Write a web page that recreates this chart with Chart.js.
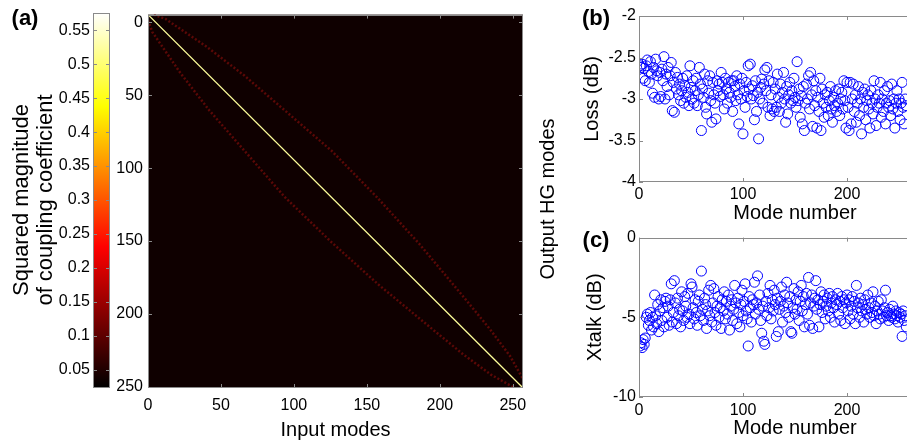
<!doctype html>
<html lang="en">
<head>
<meta charset="utf-8" />
<title>Mode coupling, loss and crosstalk</title>
<script src="https://cdn.jsdelivr.net/npm/chart.js@4.4.1/dist/chart.umd.min.js"></script>
<style>
    body {
        margin: 0;
        background: #fff;
        overflow: hidden;
        width: 907px;
        height: 445px;
        position: relative;
    }

    canvas {
        position: absolute;
    }
</style>
</head>
<body>
<canvas id="bar" width="120" height="400" style="left:0;top:0"></canvas>
<canvas id="map" width="460" height="445" style="left:100px;top:0"></canvas>
<canvas id="loss" width="400" height="225" style="left:560px;top:0"></canvas>
<canvas id="xtalk" width="400" height="220" style="left:560px;top:225px"></canvas>
<script>
    // colour scale of panel (a)
    const colorRange = [0.024, 0.576];
    const colorTicks = [0.05, 0.1, 0.15, 0.2, 0.25, 0.3, 0.35, 0.4, 0.45, 0.5, 0.55];

    // coupling matrix (a), read in the picture's own axis units
    const modeTicks = [0, 50, 100, 150, 200, 250];
    const inputRange = [0, 257];
    const outputRange = [-5.4, 250.8];
    const diagIn = [0, 257];
    const diagOut = [-5.4, 250.8];
    const upperIn = [4, 12, 40, 66, 96, 126, 157, 186, 216, 234, 248, 257];
    const upperOut = [-5.4, -2.4, 16.5, 36.4, 62.3, 88.2, 120, 152, 188, 210, 228.7, 244.6];
    const lowerIn = [0, 3, 22, 42, 68, 94, 126, 158, 194, 216, 235, 251];
    const lowerOut = [-1.4, 6.6, 34.4, 60.3, 90.2, 120.1, 151, 179.9, 209.7, 227.7, 241.6, 250.6];

    // panels (b) and (c)
    const numberTicks = [0, 100, 200];
    const lossTicks = [-2, -2.5, -3, -3.5, -4];
    const xtalkTicks = [0, -5, -10];

    const lossDb = [
        -2.6, -2.62, -2.58, -2.75, -2.63, -2.78, -2.6, -2.53, -2.67, -2.8,
        -2.55, -2.7, -2.93, -2.62, -2.98, -2.52, -2.66, -2.72, -3.0, -2.68,
        -2.97, -2.64, -2.78, -2.49, -3.0, -2.7, -2.85, -2.62, -2.95, -2.72,
        -2.56, -3.14, -2.8, -3.16, -2.68, -2.88, -2.74, -2.95, -2.82, -3.02,
        -2.9, -2.75, -3.05, -2.84, -2.98, -2.72, -2.92, -3.08, -2.6, -2.86,
        -3.0, -2.78, -3.05, -2.9, -2.75, -3.08, -2.95, -2.62, -2.82, -3.38,
        -2.88, -2.98, -2.7, -3.1, -3.18, -2.78, -2.93, -2.72, -3.02, -3.28,
        -2.8, -2.95, -3.05, -3.24, -2.78, -2.9, -2.82, -2.97, -2.68, -2.8,
        -2.95, -3.12, -2.75, -2.88, -3.05, -2.8, -2.92, -2.98, -2.78, -3.15,
        -2.78, -2.85, -3.02, -2.72, -2.95, -3.3, -2.82, -3.0, -2.75, -3.42,
        -2.9, -3.1, -2.8, -2.97, -2.6, -2.88, -2.58, -3.0, -2.84, -2.96,
        -3.25, -2.78, -3.15, -2.92, -3.48, -3.0, -2.86, -2.76, -3.05, -2.82,
        -2.65, -2.9, -2.62, -3.1, -2.78, -3.2, -2.95, -3.12, -2.8, -3.15,
        -2.88, -3.1, -2.7, -2.98, -3.15, -2.82, -3.05, -2.92, -2.68, -3.0,
        -3.28, -2.85, -3.18, -2.95, -2.8, -3.05, -2.9, -3.02, -2.75, -2.98,
        -3.1, -2.55, -3.02, -2.88, -3.22, -2.96, -3.3, -2.85, -3.38, -3.05,
        -2.82, -3.0, -2.72, -3.12, -2.68, -2.95, -3.33, -2.78, -3.08, -2.9,
        -3.35, -2.98, -3.15, -2.75, -3.38, -2.88, -3.05, -3.22, -2.95, -3.1,
        -2.92, -3.2, -3.02, -2.85, -3.12, -3.28, -2.98, -3.08, -2.9, -3.15,
        -3.05, -2.88, -3.2, -3.0, -2.92, -3.12, -2.78, -3.02, -3.35, -2.8,
        -3.1, -3.38, -2.8, -3.3, -3.0, -2.82, -3.15, -2.95, -3.28, -3.05,
        -2.85, -3.2, -3.0, -3.42, -2.92, -3.1, -2.88, -3.25, -3.02, -2.95,
        -3.12, -3.35, -2.9, -3.05, -3.18, -2.78, -3.0, -3.32, -3.1, -2.95,
        -3.05, -2.8, -3.22, -3.0, -3.15, -2.9, -3.3, -3.05, -2.85, -3.1,
        -3.02, -3.2, -2.82, -3.12, -3.0, -3.35, -3.05, -2.9, -3.15, -3.0,
        -3.25, -3.05, -2.8, -3.1, -3.3, -3.0, -3.08
    ];

    const xtalkDb = [
        -6.8, -6.6, -6.9, -6.4, -6.7, -6.3, -5.0, -4.8, -5.5, -5.2,
        -4.7, -5.8, -5.0, -5.6, -3.6, -4.9, -5.4, -4.2, -5.9, -4.6,
        -3.9, -5.2, -4.4, -5.6, -4.0, -3.8, -5.0, -4.3, -5.5, -3.9,
        -2.9, -5.3, -4.7, -2.7, -4.1, -5.4, -3.8, -4.9, -4.5, -5.6,
        -3.4, -4.6, -5.2, -3.7, -4.3, -5.0, -3.5, -4.8, -5.4, -2.9,
        -3.1, -4.4, -5.1, -3.9, -4.7, -5.5, -4.0, -3.6, -4.9, -2.1,
        -4.5, -5.2, -3.8, -4.2, -5.7, -4.6, -3.3, -4.9, -3.0, -5.3,
        -4.1, -3.2, -4.7, -5.5, -4.3, -3.7, -5.0, -4.4, -5.7, -3.9,
        -4.6, -3.4, -5.1, -4.0, -4.8, -3.6, -5.8, -4.3, -3.9, -5.2,
        -4.5, -3.0, -4.1, -5.4, -3.8, -4.7, -5.6, -4.2, -3.3, -4.9,
        -4.0, -2.9, -4.6, -5.1, -6.8, -3.7, -4.4, -5.3, -3.9, -4.2,
        -2.8, -4.8, -4.1, -2.4, -4.5, -3.6, -5.2, -6.0, -4.3, -6.5,
        -6.7, -4.0, -4.9, -3.5, -4.4, -3.0, -5.1, -3.9, -4.6, -3.3,
        -4.2, -6.2, -3.8, -5.9, -4.5, -4.0, -3.1, -5.3, -4.3, -3.6,
        -4.7, -2.8, -4.1, -5.0, -3.7, -5.9, -6.0, -4.4, -3.2, -4.8,
        -3.9, -4.5, -3.4, -5.2, -4.0, -3.0, -4.6, -3.7, -5.6, -4.2,
        -3.5, -4.8, -2.5, -5.5, -4.1, -3.6, -5.7, -4.3, -3.8, -2.7,
        -4.5, -3.9, -5.6, -4.2, -3.4, -4.7, -4.0, -3.6, -5.1, -4.3,
        -3.8, -4.6, -3.5, -5.0, -4.1, -3.7, -4.4, -5.3, -3.9, -4.2,
        -3.5, -4.8, -4.0, -5.2, -3.7, -4.4, -3.9, -5.4, -4.1, -3.6,
        -4.6, -3.9, -5.1, -4.3, -3.7, -4.8, -4.0, -5.4, -3.0, -4.4,
        -4.1, -5.0, -3.8, -4.6, -4.2, -5.3, -3.9, -4.5, -4.8, -3.6,
        -4.4, -5.0, -4.1, -4.7, -3.4, -4.9, -4.3, -5.4, -4.6, -4.0,
        -4.8, -5.1, -3.9, -4.6, -5.0, -4.4, -3.3, -4.9, -4.7, -5.2,
        -4.5, -4.9, -5.0, -4.3, -4.8, -5.1, -4.6, -4.9, -5.3, -4.7,
        -5.0, -4.8, -6.2, -4.6, -5.2, -4.9, -5.6
    ];

    const FONT = 'Arial, "Liberation Sans", sans-serif';
    Chart.defaults.font.family = FONT;
    Chart.defaults.color = '#000';
    Chart.defaults.animation = false;
    Chart.defaults.plugins.legend.display = false;
    Chart.defaults.plugins.tooltip.enabled = false;

    const pts = (xs, ys) => xs.map((x, i) => ({ x: x, y: ys[i] }));
    const setTicks = (values) => (scale) => { scale.ticks = values.map(v => ({ value: v })); };

    // matlab style box with inward ticks on all four sides
    const boxPlugin = {
        id: 'box',
        afterDraw(chart, args, opts) {
            const { ctx, chartArea: a } = chart;
            const L = opts.tick || 4;
            ctx.save();
            ctx.strokeStyle = opts.color || '#888';
            ctx.lineWidth = 1;
            ctx.beginPath();
            Object.values(chart.scales).forEach(s => {
                if (s.options.display === false) return;
                s.ticks.forEach(t => {
                    const p = Math.round(s.getPixelForValue(t.value)) + 0.5;
                    if (s.isHorizontal()) {
                        ctx.moveTo(p, a.bottom); ctx.lineTo(p, a.bottom - L);
                        ctx.moveTo(p, a.top); ctx.lineTo(p, a.top + L);
                    } else {
                        ctx.moveTo(a.left, p); ctx.lineTo(a.left + L, p);
                        ctx.moveTo(a.right, p); ctx.lineTo(a.right - L, p);
                    }
                });
            });
            ctx.stroke();
            ctx.strokeRect(Math.round(a.left) + 0.5, Math.round(a.top) + 0.5,
                Math.round(a.width) - 1, Math.round(a.height) - 1);
            ctx.restore();
        }
    };

    // free text: panel letters and the right hand label
    const textPlugin = {
        id: 'texts',
        afterDraw(chart, args, opts) {
            const ctx = chart.ctx;
            (opts.items || []).forEach(it => {
                ctx.save();
                ctx.font = it.font;
                ctx.fillStyle = '#000';
                ctx.textAlign = it.align || 'center';
                ctx.textBaseline = 'middle';
                ctx.translate(it.x, it.y);
                if (it.rot) ctx.rotate(it.rot);
                ctx.fillText(it.text, 0, 0);
                ctx.restore();
            });
        }
    };

    const bgPlugin = {
        id: 'bg',
        beforeDatasetsDraw(chart, args, opts) {
            if (!opts.color) return;
            const { ctx, chartArea: a } = chart;
            ctx.fillStyle = opts.color;
            ctx.fillRect(a.left, a.top, a.width, a.height);
        }
    };

    // colour bar
    new Chart(document.getElementById('bar'), {
        type: 'bar',
        data: {
            labels: [''],
            datasets: [{
                data: [colorRange],
                barPercentage: 1,
                categoryPercentage: 1,
                borderWidth: 0,
                backgroundColor: (c) => {
                    const a = c.chart.chartArea;
                    if (!a) return '#000';
                    const g = c.chart.ctx.createLinearGradient(0, a.bottom, 0, a.top);
                    g.addColorStop(0, '#000000');
                    g.addColorStop(0.375, '#ff0000');
                    g.addColorStop(0.75, '#ffff00');
                    g.addColorStop(1, '#ffffff');
                    return g;
                }
            }]
        },
        options: {
            responsive: false,
            devicePixelRatio: 1,
            layout: { padding: { top: 10, bottom: 12, left: 0, right: 10 } },
            scales: {
                x: { display: false },
                y: {
                    min: colorRange[0],
                    max: colorRange[1],
                    afterBuildTicks: setTicks(colorTicks),
                    afterFit: (s) => { s.width = 93; },
                    grid: { display: false, drawTicks: false },
                    border: { display: false },
                    ticks: { font: { size: 16 }, padding: 3, callback: v => String(v) },
                    title: {
                        display: true,
                        text: ['Squared magnitude', 'of coupling coefficient'],
                        font: { size: 22, lineHeight: 1.1 },
                        padding: { top: 10, bottom: 0 }
                    }
                }
            },
            plugins: {
                box: { tick: 4, color: '#8a8a8a' },
                texts: { items: [{ text: '(a)', x: 25, y: 19, font: 'bold 22px ' + FONT }] }
            }
        },
        plugins: [boxPlugin, textPlugin]
    });

    // coupling matrix
    const ridgeStyle = {
        showLine: true,
        pointRadius: 0,
        borderColor: 'rgba(110, 10, 8, 0.8)',
        borderWidth: 2.5,
        borderDash: [2, 2]
    };
    new Chart(document.getElementById('map'), {
        type: 'scatter',
        data: {
            datasets: [
                Object.assign({ data: pts(upperIn, upperOut) }, ridgeStyle),
                Object.assign({ data: pts(lowerIn, lowerOut) }, ridgeStyle),
                {
                    data: pts(diagIn, diagOut),
                    showLine: true,
                    pointRadius: 0,
                    borderColor: '#ffff9a',
                    borderWidth: 1.3
                }
            ]
        },
        options: {
            responsive: false,
            devicePixelRatio: 1,
            layout: { padding: { top: 10, bottom: 0, left: 0, right: 37 } },
            scales: {
                x: {
                    min: inputRange[0],
                    max: inputRange[1],
                    afterBuildTicks: setTicks(modeTicks),
                    afterFit: (s) => { s.height = 57; },
                    grid: { display: false, drawTicks: false },
                    border: { display: false },
                    ticks: { font: { size: 16 }, padding: 8 },
                    title: { display: true, text: 'Input modes', font: { size: 20 }, padding: { top: 0, bottom: 3 } }
                },
                y: {
                    min: outputRange[0],
                    max: outputRange[1],
                    reverse: true,
                    afterBuildTicks: setTicks(modeTicks),
                    afterFit: (s) => { s.width = 48; },
                    grid: { display: false, drawTicks: false },
                    border: { display: false },
                    ticks: { font: { size: 16 }, padding: 5 }
                }
            },
            plugins: {
                bg: { color: '#0f0000' },
                box: { tick: 4, color: '#8a8a8a' },
                texts: { items: [{ text: 'Output HG modes', x: 448, y: 199, rot: -Math.PI / 2, font: '20px ' + FONT }] }
            }
        },
        plugins: [bgPlugin, boxPlugin, textPlugin]
    });

    function scatterPanel(id, values, yTicks, opts) {
        return new Chart(document.getElementById(id), {
            type: 'scatter',
            data: {
                datasets: [{
                    data: values.map((v, i) => ({ x: i + 1, y: v })),
                    pointRadius: 5,
                    pointBorderWidth: 1,
                    pointBorderColor: '#0000ff',
                    pointBackgroundColor: 'rgba(0,0,0,0)'
                }]
            },
            options: {
                responsive: false,
                devicePixelRatio: 1,
                layout: { padding: { top: opts.top, bottom: 0, left: 0, right: 9 } },
                scales: {
                    x: {
                        min: 0,
                        max: 300,
                        afterBuildTicks: setTicks(numberTicks),
                        afterFit: (s) => { s.height = opts.xh; },
                        grid: { display: false, drawTicks: false },
                        border: { display: false },
                        ticks: { font: { size: 16 }, padding: opts.tickPad },
                        title: { display: true, text: 'Mode number', font: { size: 20 }, padding: { top: 0, bottom: opts.titlePad } }
                    },
                    y: {
                        min: yTicks[yTicks.length - 1],
                        max: yTicks[0],
                        afterBuildTicks: setTicks(yTicks),
                        afterFit: (s) => { s.width = 79; },
                        grid: { display: false, drawTicks: false },
                        border: { display: false },
                        ticks: { font: { size: 16 }, padding: 3, callback: v => String(v) },
                        title: { display: true, text: opts.ylabel, font: { size: 20 }, padding: { top: opts.ylabelPad, bottom: 0 } }
                    }
                },
                plugins: {
                    box: { tick: 4, color: '#8a8a8a' },
                    texts: { items: [{ text: opts.letter, x: 36, y: opts.letterY, font: 'bold 22px ' + FONT }] }
                }
            },
            plugins: [boxPlugin, textPlugin]
        });
    }

    scatterPanel('loss', lossDb, lossTicks, {
        top: 16, xh: 43, tickPad: 3, titlePad: 0, ylabel: 'Loss (dB)', ylabelPad: 20, letter: '(b)', letterY: 19
    });
    scatterPanel('xtalk', xtalkDb, xtalkTicks, {
        top: 5, xh: 48, tickPad: 4, titlePad: 5, ylabel: 'Xtalk (dB)', ylabelPad: 23, letter: '(c)', letterY: 16
    });
</script>
</body>
</html>
